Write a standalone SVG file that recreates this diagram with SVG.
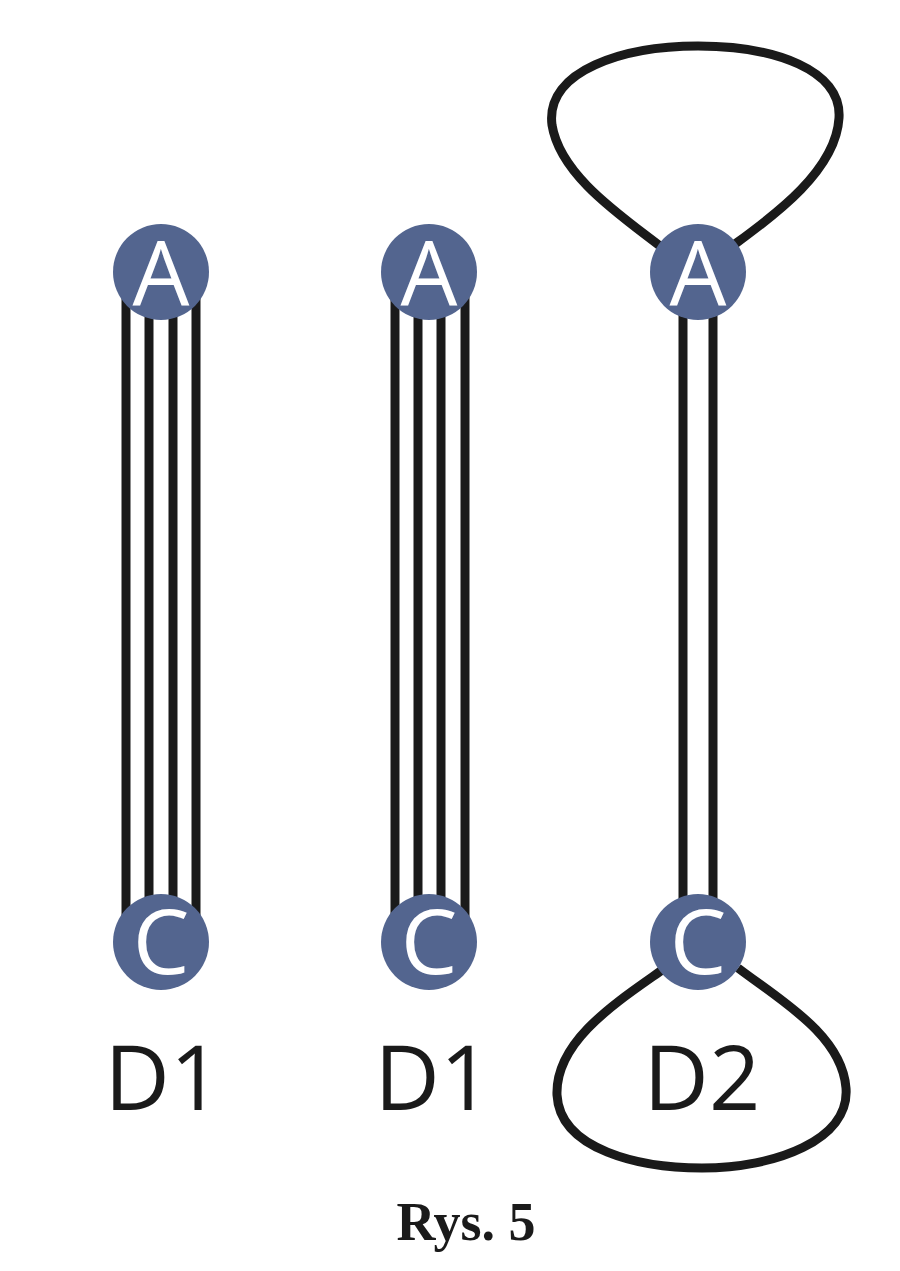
<svg xmlns="http://www.w3.org/2000/svg" width="900" height="1271" viewBox="0 0 900 1271">
<style>
.e{stroke:#1a1a1a;stroke-width:9;fill:none}
.n{fill:#53658f}
.nt{fill:#fff;font-family:"Open Sans","Noto Sans",sans-serif;font-size:90px;text-anchor:middle}
.lb{fill:#1a1a1a;font-family:"Open Sans","Noto Sans",sans-serif;font-size:90px;text-anchor:middle}
.cap{fill:#1a1a1a;font-family:"Liberation Serif",serif;font-weight:bold;font-size:54px;text-anchor:middle}
</style>
<rect width="900" height="1271" fill="#fff"/>
<g id="connectors">
<path class="e" d="M126 272V941M149 272V941M173 272V941M196 272V941"/>
<path class="e" d="M395 272V941M418 272V941M441 272V941M465 272V941"/>
<path class="e" d="M683 272V941M713 272V941"/>
<path class="e" d="M660 246C620 215 560 175 552 125C545 70 625 46 698 46C775 46 842 70 839 118C836 170 775 215 735 244"/>
<path class="e" d="M665 968C620 1000 555 1040 557 1095C560 1150 640 1168 702 1168C775 1168 850 1140 846 1088C842 1035 780 1000 738 968"/>
</g>
<g id="nodeA1"><circle class="n" cx="161" cy="272" r="48"/><text class="nt" x="161" y="305">A</text></g>
<g id="nodeC1"><circle class="n" cx="161" cy="942" r="48"/><text class="nt" x="161" y="974">C</text></g>
<g id="nodeA2"><circle class="n" cx="429" cy="272" r="48"/><text class="nt" x="429" y="305">A</text></g>
<g id="nodeC2"><circle class="n" cx="429" cy="942" r="48"/><text class="nt" x="429" y="974">C</text></g>
<g id="nodeA3"><circle class="n" cx="698" cy="272" r="48"/><text class="nt" x="698" y="305">A</text></g>
<g id="nodeC3"><circle class="n" cx="698" cy="942" r="48"/><text class="nt" x="698" y="974">C</text></g>
<g id="labels">
<text class="lb" x="163" y="1110">D1</text>
<text class="lb" x="433" y="1110">D1</text>
<text class="lb" x="702" y="1110">D2</text>
<text class="cap" x="466" y="1240">Rys. 5</text>
</g>
</svg>
